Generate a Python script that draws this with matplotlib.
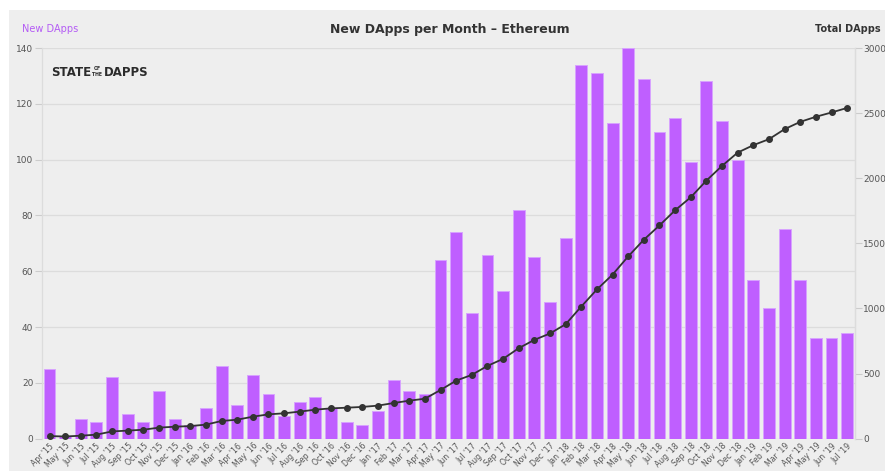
import matplotlib
matplotlib.use("Agg")
import matplotlib.pyplot as plt
from matplotlib.patches import Rectangle

months = ["Apr '15", "May '15", "Jun '15", "Jul '15", "Aug '15", "Sep '15", "Oct '15", "Nov '15", "Dec '15",
          "Jan '16", "Feb '16", "Mar '16", "Apr '16", "May '16", "Jun '16", "Jul '16", "Aug '16", "Sep '16",
          "Oct '16", "Nov '16", "Dec '16", "Jan '17", "Feb '17", "Mar '17", "Apr '17", "May '17", "Jun '17",
          "Jul '17", "Aug '17", "Sep '17", "Oct '17", "Nov '17", "Dec '17", "Jan '18", "Feb '18", "Mar '18",
          "Apr '18", "May '18", "Jun '18", "Jul '18", "Aug '18", "Sep '18", "Oct '18", "Nov '18", "Dec '18",
          "Jan '19", "Feb '19", "Mar '19", "Apr '19", "May '19", "Jun '19", "Jul '19"]

new_dapps = [25, 1, 7, 6, 22, 9, 6, 17, 7,
             5, 11, 26, 12, 23, 16, 8, 13, 15,
             11, 6, 5, 10, 21, 17, 16, 64, 74,
             45, 66, 53, 82, 65, 49, 72, 134, 131,
             113, 140, 129, 110, 115, 99, 128, 114, 100,
             57, 47, 75, 57, 36, 36, 38]

total_dapps = [20, 17, 23, 31, 56, 62, 69, 85, 92,
               97, 108, 136, 146, 169, 187, 195, 208, 223,
               233, 238, 244, 254, 274, 292, 307, 374, 446,
               490, 559, 613, 695, 759, 808, 879, 1015, 1146,
               1260, 1400, 1528, 1638, 1754, 1854, 1982, 2095, 2197,
               2254, 2300, 2377, 2433, 2472, 2505, 2540]

left_ticks = [0, 20, 40, 60, 80, 100, 120, 140]
right_ticks = [0, 500, 1000, 1500, 2000, 2500, 3000]

W, H = 885, 471
fig = plt.figure(figsize=(W / 100, H / 100), dpi=100, facecolor="white")
fig.patches.append(Rectangle((9 / W, 0), 1 - 9 / W, 1 - 10 / H, transform=fig.transFigure,
                             facecolor="#eeeeee", edgecolor="none", zorder=-10))

ax = fig.add_axes([41.7 / W, 1 - 438.7 / H, (855 - 41.7) / W, (438.7 - 48) / H])
ax.set_facecolor("none")
x = list(range(len(months)))
ax.bar(x, new_dapps, width=0.76, color="#bf5fff", edgecolor="#d8a3ff", linewidth=0.7, zorder=2)
ax.set_xlim(-0.5, len(months) - 0.5)
ax.set_ylim(0, 140)
ax.set_yticks(left_ticks)
ax.yaxis.grid(True, color="#dcdcdc", linewidth=0.9, zorder=0)
ax.set_axisbelow(True)
ax.set_xticks(x)
ax.set_xticklabels(months, rotation=45, ha="right", rotation_mode="anchor", fontsize=5.6, color="#555555")
ax.tick_params(axis="x", length=0, pad=2)
ax.tick_params(axis="y", length=5, width=0.8, color="#cccccc", labelsize=6.5, labelcolor="#555555", pad=1)
for s in ["top", "bottom"]:
    ax.spines[s].set_visible(False)
for s in ["left", "right"]:
    ax.spines[s].set_color("#dcdcdc")
    ax.spines[s].set_linewidth(0.9)

ax2 = ax.twinx()
ax2.plot(x, total_dapps, color="#333333", linewidth=1.3, marker="o", markersize=4, zorder=3)
ax2.set_ylim(0, 3000)
ax2.set_yticks(right_ticks)
ax2.tick_params(axis="y", length=5, width=0.8, color="#cccccc", labelsize=6.5, labelcolor="#555555", pad=1)
for s in ["top", "bottom", "left"]:
    ax2.spines[s].set_visible(False)
ax2.spines["right"].set_color("#dcdcdc")
ax2.spines["right"].set_linewidth(0.9)

fig.text(450 / W, 1 - 29 / H, "New DApps per Month – Ethereum", ha="center", va="center",
         fontsize=9, color="#333333", fontweight="semibold")
fig.text(22 / W, 1 - 29 / H, "New DApps", ha="left", va="center", fontsize=7, color="#b45cf5")
fig.text(881 / W, 1 - 29 / H, "Total DApps", ha="right", va="center", fontsize=7, color="#333333",
         fontweight="semibold")

# logo, laid out piece by piece from measured text widths
logo_kw = dict(color="#2b2b2b", fontweight="bold", family="DejaVu Sans")
renderer = fig.canvas.get_renderer()
t1 = fig.text(51 / W, 1 - 76 / H, "STATE", ha="left", va="baseline", fontsize=8.5, **logo_kw)
e1 = t1.get_window_extent(renderer)
small_x = (e1.x1 + 6) / W
fig.text(small_x, 1 - 69.5 / H, "OF", ha="center", va="baseline", fontsize=3.3, **logo_kw)
t3 = fig.text(small_x, 1 - 75.5 / H, "THE", ha="center", va="baseline", fontsize=3.3, **logo_kw)
e3 = t3.get_window_extent(renderer)
fig.text((e3.x1 + 1.5) / W, 1 - 76 / H, "DAPPS", ha="left", va="baseline", fontsize=8.5, **logo_kw)

fig.savefig("out.png", dpi=100, facecolor=fig.get_facecolor())
